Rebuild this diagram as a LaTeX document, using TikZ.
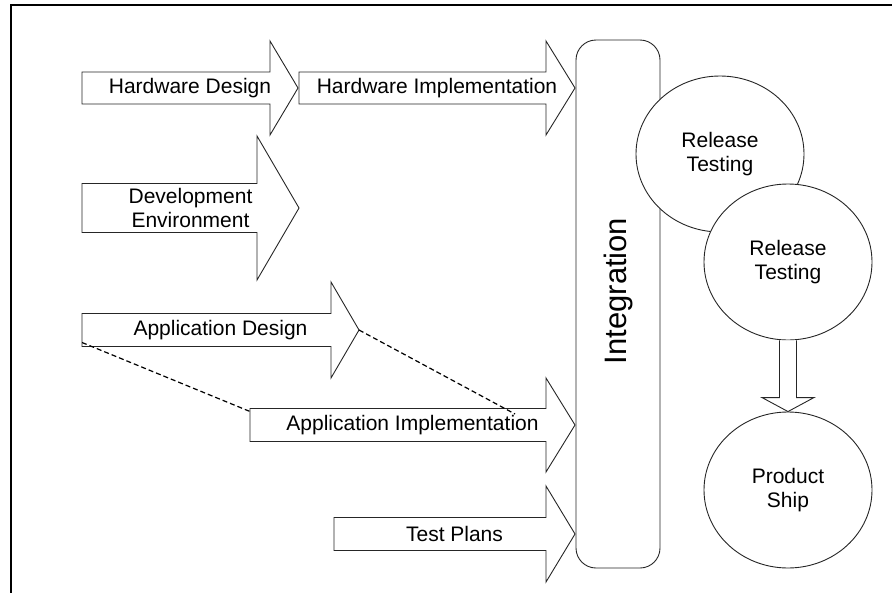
\documentclass[tikz,border=0pt]{standalone}
\usepackage{fontspec}
\setmainfont{Liberation Sans}
\usepackage{tikz}
\usetikzlibrary{shapes.geometric, positioning}

% block arrow: name, left x, head x, tip x, mid y, body half, head half, text
\newcommand{\blockarrow}[8]{%
  \draw[blk] (#2,#5-#6) -- (#3,#5-#6) -- (#3,#5-#7) -- (#4,#5) -- (#3,#5+#7) -- (#3,#5+#6) -- (#2,#5+#6) -- cycle;
  \coordinate (#1-tl) at (#2,#5-#6);
  \coordinate (#1-bl) at (#2,#5+#6);
  \coordinate (#1-tip) at (#4,#5);
  \node[lbl] (#1) at ({(#2+#4)/2},#5) {#8};
}

\begin{document}
\begin{tikzpicture}[x=1pt, y=-1pt]
	% Styles
	\tikzstyle{blk} = [draw=black!85, fill=white, line width=0.9pt]
	\tikzstyle{lbl} = [align=center, inner sep=0pt, font=\fontsize{21}{24}\selectfont]
	\tikzstyle{intbox} = [draw=black!85, line width=0.9pt, rounded corners=20pt, minimum width=84, minimum height=528, inner sep=0pt]
	\tikzstyle{stage} = [draw=black!85, fill=white, line width=0.9pt, ellipse, minimum width=168, minimum height=156, inner sep=0pt, align=center, font=\fontsize{21}{24}\selectfont]
	\tikzstyle{dashline} = [line width=1.2pt, dash pattern=on 5pt off 3pt]

	\useasboundingbox (0,0) rectangle (892,592);
	\clip (0,0) rectangle (892,592);

	% Frame
	\draw[line width=2pt] (11,5) rectangle (920,620);

	% Arrows
	\blockarrow{hwdes}{82}{270}{298}{88}{16}{47}{Hardware Design}
	\blockarrow{hwimp}{299}{546}{575}{88}{16}{47}{Hardware Implementation}
	\blockarrow{devenv}{82}{257}{299}{208}{24.5}{72}{Development\\Environment}
	\blockarrow{appdes}{82}{331}{359}{330}{16.5}{48}{Application Design}
	\blockarrow{appimp}{250}{546}{575}{425}{16.5}{47}{Application Implementation}
	\blockarrow{tests}{334}{546}{575}{534}{16.5}{48}{Test Plans}

	% Integration
	\node[intbox] (integ) at (618,304) {};
	\node[rotate=90, inner sep=0pt, font=\fontsize{31}{36}\selectfont] (integlbl) at (618,291) {Integration};

	% Stages
	\node[stage] (rel1) at (720,154) {Release\\Testing};
	\node[stage] (rel2) at (788,262) {Release\\Testing};
	\node[stage] (ship) at (788,490) {Product\\Ship};

	% Connections
	\draw[blk] ([xshift=-8.5]rel2.south) -- ([xshift=-8.5,yshift=14]ship.north) -- ([xshift=-26,yshift=14]ship.north) -- (ship.north) -- ([xshift=26,yshift=14]ship.north) -- ([xshift=8.5,yshift=14]ship.north) -- ([xshift=8.5]rel2.south);
	\coordinate (appimp-mark) at (515,414);
	\draw[dashline] ([yshift=4]appdes-bl) -- ([yshift=-3]appimp-tl);
	\draw[dashline] (appdes-tip) -- (appimp-mark);
\end{tikzpicture}
\end{document}
